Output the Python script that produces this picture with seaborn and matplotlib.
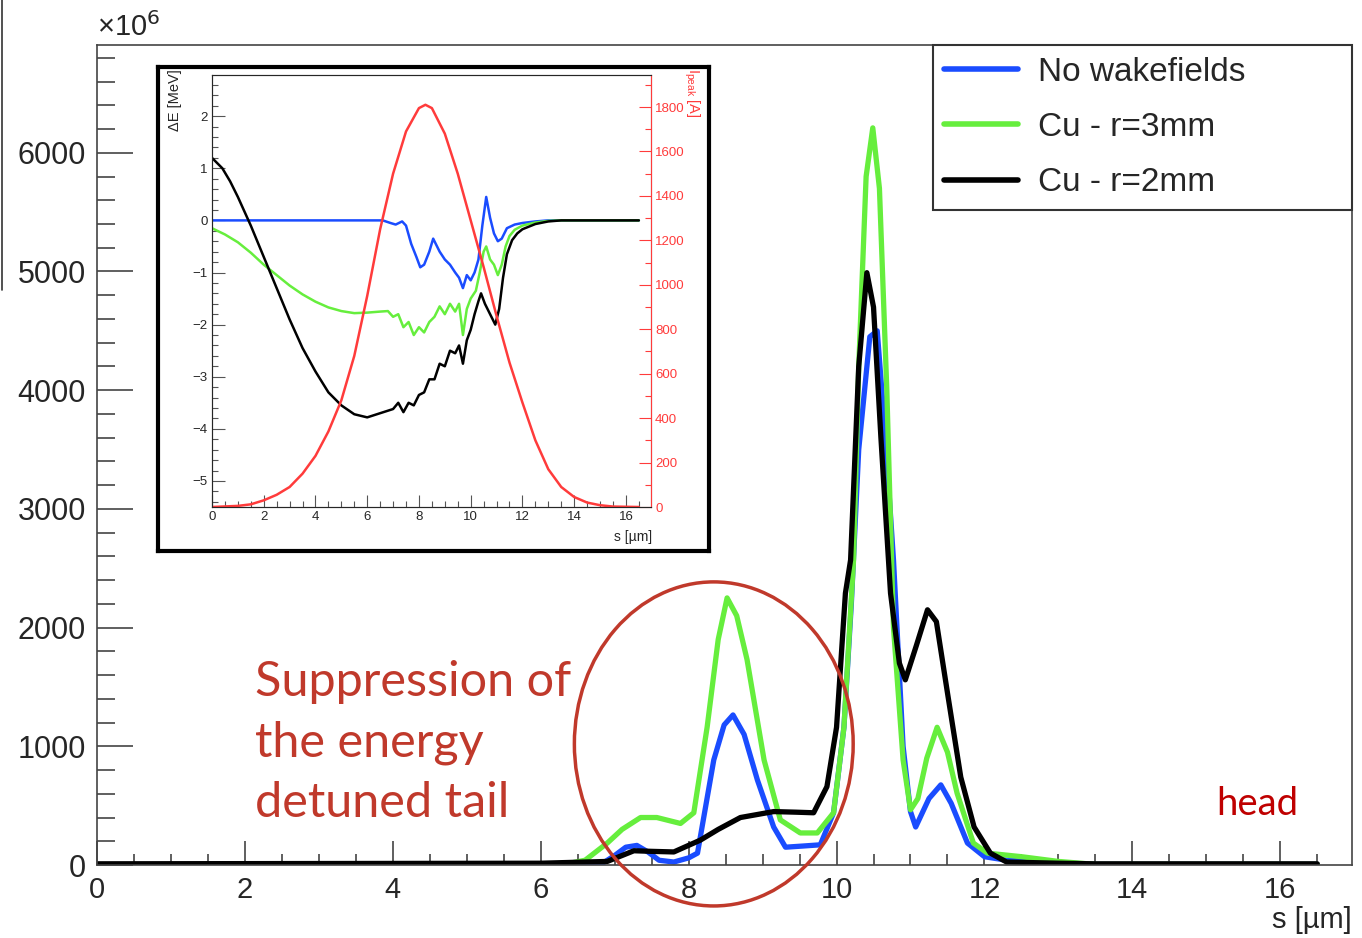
import numpy as np
import pandas as pd
import matplotlib
matplotlib.use("Agg")
import matplotlib.pyplot as plt
from matplotlib.patches import Ellipse
from matplotlib.lines import Line2D
from matplotlib.ticker import MultipleLocator
import seaborn as sns

# main plot: current profile, units of 1e6
s_blue = [0, 6.8, 7.0, 7.15, 7.3, 7.45, 7.6, 7.8, 8.0, 8.12, 8.34, 8.48, 8.6, 8.75, 8.93, 9.15, 9.31, 9.55, 9.78,
          9.96, 10.1, 10.2, 10.3, 10.45, 10.55, 10.65, 10.77, 10.9, 11.0, 11.07, 11.25, 11.41, 11.55, 11.77, 12.0,
          12.3, 13.0, 13.5, 16.5]
i_blue = [0, 0, 80, 150, 165, 110, 40, 25, 60, 100, 885, 1180, 1264, 1100, 716, 320, 150, 160, 170,
          440, 1160, 2200, 3500, 4450, 4500, 3700, 2570, 1000, 450, 320, 560, 675, 520, 185, 70,
          40, 20, 5, 5]

s_green = [0, 6.27, 6.6, 6.9, 7.1, 7.35, 7.57, 7.89, 8.07, 8.25, 8.4, 8.52, 8.65, 8.79, 9.02, 9.24, 9.51, 9.74,
           9.96, 10.1, 10.23, 10.3, 10.4, 10.49, 10.58, 10.68, 10.77, 10.9, 11.0, 11.1, 11.22, 11.36, 11.5, 11.63,
           11.85, 12.04, 12.5, 13.0, 13.5, 16.5]
i_green = [0, 0, 40, 185, 300, 400, 400, 350, 440, 1160, 1900, 2250, 2100, 1730, 885, 380, 270, 270,
           440, 1160, 2570, 4200, 5800, 6210, 5700, 4000, 2000, 885, 465, 560, 900, 1160, 950, 605,
           185, 100, 70, 30, 5, 5]

s_black = [0, 6.0, 6.9, 7.26, 7.5, 7.8, 8.16, 8.4, 8.7, 9.15, 9.45, 9.69, 9.87, 10.0, 10.12, 10.19, 10.3, 10.41,
           10.5, 10.6, 10.73, 10.85, 10.93, 11.08, 11.23, 11.35, 11.5, 11.68, 11.86, 12.08, 12.3, 13.0, 13.5, 16.5]
i_black = [10, 15, 30, 120, 115, 110, 210, 300, 400, 450, 445, 440, 660, 1160, 2290, 2570, 4200, 4990,
           4700, 3600, 2290, 1700, 1560, 1850, 2150, 2050, 1450, 740, 320, 100, 25, 15, 10, 10]

# inset: energy change along the bunch [MeV]
s_de_blue = [0, 6.6, 6.9, 7.1, 7.35, 7.5, 7.7, 7.9, 8.05, 8.2, 8.4, 8.55, 8.65, 8.8, 9.0, 9.2, 9.4, 9.55, 9.7,
             9.85, 10.0, 10.15, 10.3, 10.45, 10.6, 10.75, 10.9, 11.05, 11.2, 11.4, 11.7, 12.0, 12.5, 13.0, 16.5]
de_blue = [0, 0, -0.05, -0.08, -0.02, -0.1, -0.45, -0.7, -0.9, -0.85, -0.6, -0.35, -0.45, -0.6, -0.75, -0.85,
           -1.0, -1.1, -1.3, -1.05, -1.15, -1.0, -0.75, -0.1, 0.45, 0.05, -0.25, -0.4, -0.35, -0.15, -0.08,
           -0.05, -0.02, 0, 0]

s_de_green = [0, 0.5, 1, 1.5, 2, 2.5, 3, 3.5, 4, 4.5, 5, 5.5, 6, 6.5, 6.8, 7.0, 7.2, 7.4, 7.6, 7.8, 8.0, 8.2,
              8.4, 8.6, 8.8, 9.0, 9.2, 9.4, 9.55, 9.7, 9.85, 10.0, 10.2, 10.35, 10.5, 10.6, 10.75, 10.9, 11.05,
              11.2, 11.35, 11.5, 11.7, 12.0, 12.5, 13.0, 13.5, 16.5]
de_green = [-0.15, -0.27, -0.42, -0.62, -0.85, -1.05, -1.25, -1.42, -1.56, -1.67, -1.74, -1.78, -1.77, -1.75,
            -1.74, -1.85, -1.8, -2.05, -1.95, -2.2, -2.05, -2.15, -1.95, -1.85, -1.65, -1.8, -1.6, -1.75, -1.6,
            -2.2, -1.7, -1.5, -1.35, -1.0, -0.6, -0.5, -0.75, -0.85, -1.05, -0.85, -0.5, -0.3, -0.18, -0.1,
            -0.04, -0.01, 0, 0]

s_de_black = [0, 0.2, 0.4, 0.7, 1.0, 1.5, 2.0, 2.5, 3.0, 3.5, 4.0, 4.5, 5.0, 5.5, 6.0, 6.5, 7.0, 7.2, 7.4, 7.6,
              7.8, 8.0, 8.2, 8.4, 8.6, 8.8, 9.0, 9.2, 9.4, 9.55, 9.7, 9.85, 10.0, 10.15, 10.3, 10.4, 10.55,
              10.7, 10.85, 10.95, 11.1, 11.25, 11.4, 11.6, 11.8, 12.0, 12.5, 13.0, 13.5, 16.5]
de_black = [1.2, 1.1, 1.0, 0.75, 0.45, -0.1, -0.7, -1.3, -1.9, -2.45, -2.9, -3.3, -3.55, -3.72, -3.78, -3.7,
            -3.62, -3.5, -3.68, -3.5, -3.55, -3.35, -3.3, -3.05, -3.05, -2.75, -2.8, -2.5, -2.55, -2.4, -2.75,
            -2.3, -2.1, -1.8, -1.55, -1.4, -1.6, -1.75, -1.9, -2.0, -1.7, -1.1, -0.65, -0.38, -0.25, -0.17,
            -0.07, -0.02, 0, 0]

# inset: peak current [A]
s_ipeak = [0, 1, 1.5, 2, 2.5, 3, 3.5, 4, 4.5, 5, 5.5, 6, 6.5, 7, 7.5, 8, 8.25, 8.5, 9, 9.5, 10, 10.5, 11,
           11.5, 12, 12.5, 13, 13.5, 14, 14.5, 15, 15.5, 16.5]
ipeak = [0, 5, 12, 30, 55, 90, 150, 230, 340, 480, 680, 950, 1250, 1500, 1690, 1795, 1810, 1795, 1680, 1500,
         1290, 1080, 860, 650, 470, 300, 170, 90, 45, 20, 8, 2, 0]

labels = ["No wakefields", "Cu - r=3mm", "Cu - r=2mm"]
colors = ["#1a4cff", "#66ee3d", "black"]
red = "#ff3b3b"
note_red = "#c0392b"

sns.set_style("ticks")
plt.rcParams['font.family'] = ['Liberation Sans', 'DejaVu Sans']

W, H = 1362, 938
fig = plt.figure(figsize=(W / 100, H / 100), dpi=100)

ax = fig.add_axes([97 / W, 73 / H, 1255 / W, 820 / H])
main = [(s_blue, i_blue), (s_green, i_green), (s_black, i_black)]
for (xs, ys), lab, c in zip(main, labels, colors):
    df = pd.DataFrame({"s": xs, "I": ys})
    sns.lineplot(data=df, x="s", y="I", ax=ax, color=c, lw=3.8, label=lab, estimator=None, sort=False)

ax.set_xlim(0, 16.97)
ax.set_ylim(0, 6908)
ax.set_xlabel("")
ax.set_ylabel("")
ax.xaxis.set_major_locator(MultipleLocator(2))
ax.xaxis.set_minor_locator(MultipleLocator(0.5))
ax.yaxis.set_major_locator(MultipleLocator(1000))
ax.yaxis.set_minor_locator(MultipleLocator(200))
for sp in ax.spines.values():
    sp.set_color("#444444")
    sp.set_linewidth(1.2)
ax.tick_params(axis="y", which="major", direction="in", length=26, width=1.2, color="#444444", labelsize=22, pad=8)
ax.tick_params(axis="y", which="minor", direction="in", length=13, width=1.2, color="#444444")
ax.tick_params(axis="x", which="major", direction="in", length=17, width=1.2, color="#444444", labelsize=21, pad=8)
ax.tick_params(axis="x", which="minor", direction="in", length=8, width=1.2, color="#444444")
ax.text(0, 1.004, "×10$^{6}$", transform=ax.transAxes, fontsize=21, ha="left", va="bottom")

leg = ax.legend(loc="upper left", bbox_to_anchor=(0.666, 0, 0.334, 1.0), mode="expand", borderaxespad=0,
                fontsize=24, handlelength=2.2, handletextpad=0.6, labelspacing=0.73, borderpad=0.35,
                fancybox=False, framealpha=1, edgecolor="#333333")
leg.get_frame().set_linewidth(1.5)
for ln in leg.get_lines():
    ln.set_linewidth(4)

ax.add_patch(Ellipse((8.34, 1020), 3.77, 2730, fill=False, edgecolor=note_red, lw=2.5, clip_on=False, zorder=5))
ax.text(2.14, 404, "Suppression of\nthe energy\ndetuned tail", color=note_red, fontsize=35,
        family=["Lato", "DejaVu Sans"], ha="left", va="baseline", linespacing=1.45)
ax.text(15.13, 421, "head", color="#bf0000", fontsize=27.5, family=["Lato", "DejaVu Sans"], ha="left", va="baseline")
fig.text(1352 / W, 10 / H, "s [µm]", fontsize=21, ha="right", va="baseline")

# left edge leftover line from the screenshot
fig.add_artist(Line2D([2 / W, 2 / W], [1, 1 - 290 / H], color="#333333", lw=1.2))

# inset frame
fr = fig.add_axes([158 / W, 387 / H, 551 / W, 484 / H])
fr.set_xticks([])
fr.set_yticks([])
fr.set_facecolor("white")
for sp in fr.spines.values():
    sp.set_color("black")
    sp.set_linewidth(3)

ax_in = fig.add_axes([212 / W, 431 / H, 439 / W, 432 / H])
inset = [(s_de_blue, de_blue), (s_de_green, de_green), (s_de_black, de_black)]
for (xs, ys), c in zip(inset, colors):
    df = pd.DataFrame({"s": xs, "dE": ys})
    sns.lineplot(data=df, x="s", y="dE", ax=ax_in, color=c, lw=1.8, estimator=None, sort=False)
ax_in.set_xlim(0, 16.97)
ax_in.set_ylim(-5.5, 2.79)
ax_in.set_xlabel("")
ax_in.set_ylabel("")
ax_in.xaxis.set_major_locator(MultipleLocator(2))
ax_in.xaxis.set_minor_locator(MultipleLocator(0.5))
ax_in.yaxis.set_major_locator(MultipleLocator(1))
ax_in.yaxis.set_minor_locator(MultipleLocator(0.2))
ax_in.tick_params(which="major", direction="in", length=9, width=0.8, color="#555555", labelsize=9.5, pad=3)
ax_in.tick_params(which="minor", direction="in", length=4.5, width=0.8, color="#555555")
for sp in ax_in.spines.values():
    sp.set_color("#555555")
    sp.set_linewidth(0.8)

ax_r = ax_in.twinx()
sns.lineplot(x=s_ipeak, y=ipeak, ax=ax_r, color=red, lw=1.8, estimator=None, sort=False)
ax_r.set_ylim(0, 1944)
ax_r.set_ylabel("")
ax_r.yaxis.set_major_locator(MultipleLocator(200))
ax_r.yaxis.set_minor_locator(MultipleLocator(100))
ax_r.tick_params(axis="y", which="major", direction="in", length=9, width=0.8, colors=red, labelsize=9.5, pad=3)
ax_r.tick_params(axis="y", which="minor", direction="in", length=4.5, width=0.8, colors=red)
ax_r.spines["right"].set_color(red)
ax_r.spines["right"].set_linewidth(0.8)

fig.text(175 / W, 1 - 69 / H, "ΔE [MeV]", rotation=90, fontsize=10.5, ha="center", va="top")
fig.text(692 / W, 1 - 68 / H, "I$_{\\mathregular{peak}}$ [A]", rotation=270, fontsize=10.5, color=red,
         ha="center", va="top")
fig.text(652 / W, 1 - 541 / H, "s [µm]", fontsize=10, ha="right", va="baseline")

fig.savefig("out.png", dpi=100)
